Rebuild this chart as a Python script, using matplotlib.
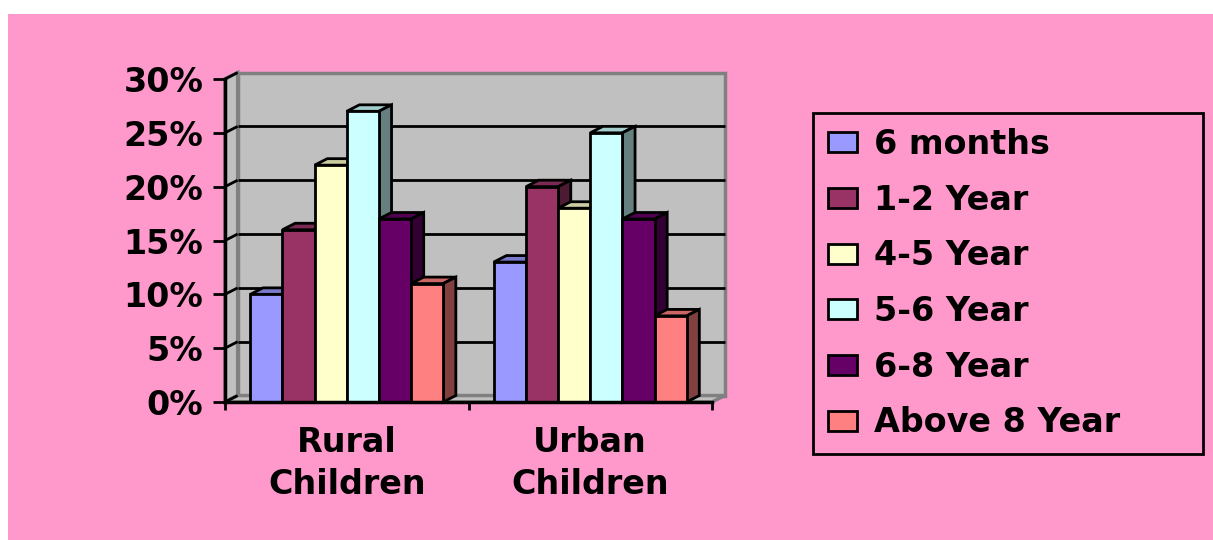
import matplotlib.pyplot as plt
import numpy as np
from matplotlib.colors import to_rgb
from matplotlib.patches import Patch, Polygon, Rectangle
from matplotlib.ticker import PercentFormatter

CATEGORIES = ["Rural\nChildren", "Urban\nChildren"]
SERIES = ["6 months", "1-2 Year", "4-5 Year", "5-6 Year", "6-8 Year", "Above 8 Year"]
RURAL = [10, 16, 22, 27, 17, 11]
URBAN = [13, 20, 18, 25, 17, 8]
COLORS = ["#9999FF", "#993366", "#FFFFCC", "#CCFFFF", "#660066", "#FF8080"]
Y_TICKS = [0, 5, 10, 15, 20, 25, 30]

PINK = "#FF99CC"
WALL = "#C0C0C0"
WALL_EDGE = "#808080"
DX, DY = 0.052, 0.6  # fake 3d depth, in data units
BAR_W = 0.132
FONT = {"family": "DejaVu Sans", "weight": "bold", "size": 24}
W, H = 1213, 540


def shade(color, f):
    return tuple(np.array(to_rgb(color)) * f)


fig = plt.figure(figsize=(W / 100, H / 100), dpi=100, facecolor="white")
fig.patches.append(
    Rectangle((8 / W, 0), 1 - 8 / W, 1 - 14 / H, transform=fig.transFigure,
              facecolor=PINK, edgecolor="none", zorder=-10)
)

ax = fig.add_axes((225 / W, 138 / H, 487 / W, 323 / H))
ax.set_facecolor("none")
x0, x1 = -0.5, len(CATEGORIES) - 0.5
ymax = Y_TICKS[-1]
ax.set_xlim(x0, x1)
ax.set_ylim(0, ymax)

# walls and floor
wall_kw = dict(facecolor=WALL, edgecolor=WALL_EDGE, lw=2.5, zorder=0, clip_on=False)
ax.add_patch(Polygon([(x0 + DX, DY), (x1 + DX, DY), (x1 + DX, ymax + DY), (x0 + DX, ymax + DY)], **wall_kw))
ax.add_patch(Polygon([(x0, 0), (x0 + DX, DY), (x0 + DX, ymax + DY), (x0, ymax)], **wall_kw))
ax.add_patch(Polygon([(x0, 0), (x1, 0), (x1 + DX, DY), (x0 + DX, DY)], **wall_kw))

for v in Y_TICKS:
    ax.plot([x0, x0 + DX], [v, v + DY], color="black", lw=2, zorder=1, clip_on=False,
            solid_capstyle="butt")
    if 0 < v < ymax:
        ax.plot([x0 + DX, x1 + DX], [v + DY, v + DY], color="black", lw=2, zorder=1,
                clip_on=False, solid_capstyle="butt")

# bars
values = np.array([RURAL, URBAN])
xs = np.arange(len(CATEGORIES))
for i, (label, color) in enumerate(zip(SERIES, COLORS)):
    lefts = xs + (i - len(SERIES) / 2) * BAR_W
    z = 2 + 2 * i
    for l, v in zip(lefts, values[:, i]):
        r = l + BAR_W
        ax.add_patch(Polygon([(l, v), (r, v), (r + DX, v + DY), (l + DX, v + DY)],
                             facecolor=shade(color, 0.8), edgecolor="black", lw=2,
                             joinstyle="miter", zorder=z, clip_on=False))
        ax.add_patch(Polygon([(r, 0), (r + DX, DY), (r + DX, v + DY), (r, v)],
                             facecolor=shade(color, 0.5), edgecolor="black", lw=2,
                             joinstyle="miter", zorder=z, clip_on=False))
    ax.bar(lefts, values[:, i], width=BAR_W, align="edge", color=color, edgecolor="black",
           lw=2, label=label, zorder=z + 1, clip_on=False)

# axes
for side in ("top", "right"):
    ax.spines[side].set_visible(False)
for side in ("left", "bottom"):
    ax.spines[side].set_linewidth(2.5)
    ax.spines[side].set_zorder(50)

ax.set_yticks(Y_TICKS)
ax.yaxis.set_major_formatter(PercentFormatter(decimals=0))
ax.tick_params(axis="y", length=8.5, width=2, pad=7, labelsize=FONT["size"])
for t in ax.get_yticklabels():
    t.set_fontweight("bold")
    t.set_family(FONT["family"])

ax.set_xticks([x0, 0.5, x1])
ax.set_xticklabels([])
ax.set_xticks(xs, CATEGORIES, minor=True)
ax.tick_params(axis="x", which="major", length=6, width=2)
ax.tick_params(axis="x", which="minor", length=0, pad=17, labelsize=FONT["size"])
for t in ax.get_xticklabels(minor=True):
    t.set_fontweight("bold")
    t.set_family(FONT["family"])
    t.set_linespacing(1.38)

handles = [Patch(facecolor=c, edgecolor="black", lw=2) for c in COLORS]
leg = fig.legend(
    handles, SERIES,
    loc="upper left",
    bbox_to_anchor=(813 / W, 0, (1203 - 813) / W, 1 - 113 / H),
    mode="expand",
    prop=FONT,
    frameon=True,
    fancybox=False,
    facecolor="none",
    edgecolor="black",
    framealpha=1,
    handlelength=0.88,
    handleheight=0.55,
    handletextpad=0.5,
    borderpad=0.45,
    labelspacing=0.68,
    borderaxespad=0,
)
leg.get_frame().set_linewidth(2)

fig.savefig("out.png", dpi=100)
